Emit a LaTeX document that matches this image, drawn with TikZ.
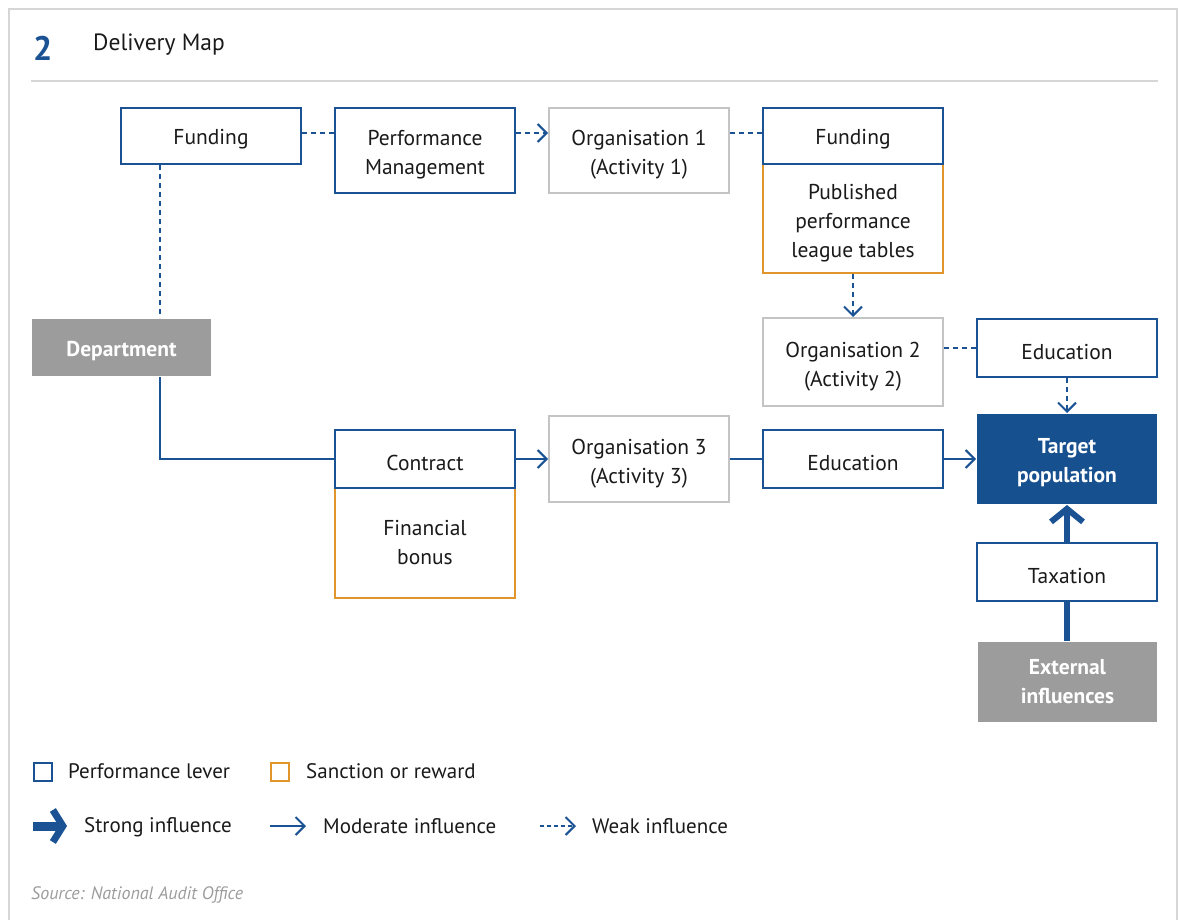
\documentclass[tikz,border=0pt]{standalone}
\usepackage{fontspec}
\setmainfont{PT Sans}
\usetikzlibrary{arrows.meta}
\definecolor{nblue}{HTML}{1A5294}
\definecolor{ndark}{HTML}{17508F}
\definecolor{norange}{HTML}{E0962A}
\definecolor{ngrayline}{HTML}{C4C4C4}
\definecolor{ngrayfill}{HTML}{9C9C9C}
\definecolor{nframe}{HTML}{D6D6D6}
\definecolor{ntext}{HTML}{1A1A1A}
\newcommand\mlx[2][28.5pt]{\begin{tabular}{@{}c@{}}\rule{0pt}{#1}#2\end{tabular}}
\tikzset{
  base/.style={rectangle, inner sep=0pt, align=center, text=ntext, font=\fontsize{21.5}{29}\selectfont, line width=2pt, execute at begin node={\rule{0pt}{22.5pt}}},
  lever/.style={base, draw=nblue, fill=white},
  sanction/.style={base, draw=norange, fill=white},
  org/.style={base, draw=ngrayline, fill=white},
  grayfill/.style={base, fill=ngrayfill, text=white, font=\fontsize{21.5}{29}\selectfont\bfseries},
  bluefill/.style={base, fill=ndark, text=white, font=\fontsize{21.5}{29}\selectfont\bfseries},
  weak/.style={draw=nblue, line width=2pt, dash pattern=on 5pt off 4pt},
  moderate/.style={draw=nblue, line width=2pt},
  tipw/.style={-{Straight Barb[length=9pt,width=18pt,line width=2pt]}},
  strong/.style={draw=nblue, line width=6pt},
  tips/.style={-{Straight Barb[length=13pt,width=32pt,line width=6pt]}},
  lbl/.style={anchor=west, inner sep=0pt, text=ntext, font=\fontsize{21}{25}\selectfont},
}
\begin{document}
\begin{tikzpicture}[x=1pt,y=-1pt]
\useasboundingbox (0,0) rectangle (1186,920);
% frame
\draw[nframe, line width=2pt] (9,921) -- (9,9) -- (1177,9) -- (1177,921);
\draw[nframe, line width=1.5pt] (31,81) -- (1158,81);
\node[anchor=base west, inner sep=0pt, text=nblue, font=\fontsize{34}{36}\selectfont\bfseries] (num) at (33,61) {2};
\node[anchor=base west, inner sep=0pt, text=ntext, font=\fontsize{23.5}{26}\selectfont] (title) at (93,51) {Delivery Map};

% nodes
\node[lever, minimum width=180pt, minimum height=56pt] (f1) at (211,136) {Funding};
\node[lever, minimum width=180pt, minimum height=85pt] (pm) at (425,150.5) {\mlx{Performance\\Management}};
\node[org, minimum width=180pt, minimum height=85pt] (o1) at (639,150.5) {\mlx{Organisation 1\\(Activity 1)}};
\node[sanction, minimum width=180pt, minimum height=109pt] (lt) at (853,218.5) {\mlx{Published\\performance\\league tables}};
\node[lever, minimum width=180pt, minimum height=56pt] (f2) at (853,136) {Funding};
\node[grayfill, minimum width=179pt, minimum height=57pt] (dep) at (121.5,347.5) {Department};
\node[org, minimum width=180pt, minimum height=88pt] (o2) at (853,362) {\mlx[29pt]{Organisation 2\\(Activity 2)}};
\node[lever, minimum width=180pt, minimum height=58pt] (e2) at (1067,348) {Education};
\node[sanction, minimum width=180pt, minimum height=110pt] (fb) at (425,543) {\mlx[22.5pt]{Financial\\bonus}};
\node[lever, minimum width=180pt, minimum height=58pt] (con) at (425,459) {Contract};
\node[org, minimum width=180pt, minimum height=86pt] (o3) at (639,459) {\mlx{Organisation 3\\(Activity 3)}};
\node[lever, minimum width=180pt, minimum height=58pt] (e3) at (853,459) {Education};
\node[bluefill, minimum width=180pt, minimum height=90pt] (tp) at (1067,459) {\mlx[26.5pt]{Target\\population}};
\node[lever, minimum width=180pt, minimum height=58pt] (tax) at (1067,572) {Taxation};
\node[grayfill, minimum width=179pt, minimum height=80pt] (ext) at (1067.5,682) {\mlx[22.5pt]{External\\influences}};

% connectors
\draw[weak] (f1.east |- 0,133) -- (pm.west |- 0,133);
\draw[weak, tipw] (pm.east |- 0,133) -- (o1.west |- 0,133);
\draw[weak] (o1.east |- 0,133) -- (f2.west |- 0,133);
\draw[weak] (f1.south -| 160,0) -- (dep.north -| 160,0);
\draw[weak, tipw] (lt.south) -- (o2.north);
\draw[weak] (o2.east |- e2.west) -- (e2.west);
\draw[weak, tipw] (e2.south) -- (tp.north);
\draw[moderate] (dep.south -| 160,0) |- (con.west);
\draw[moderate, tipw] (con.east) -- (o3.west);
\draw[moderate] (o3.east) -- (e3.west);
\draw[moderate, tipw] (e3.east) -- (tp.west);
\draw[strong, tips] (tax.north) -- (tp.south);
\draw[strong] (ext.north -| tax.south) -- (tax.south);

% legend
\node[draw=nblue, line width=2pt, minimum size=18pt, inner sep=0pt] (lg1) at (42.5,772) {};
\node[lbl] (lt1) at (68,771) {Performance lever};
\node[draw=norange, line width=2pt, minimum size=18pt, inner sep=0pt] (lg2) at (280,772) {};
\node[lbl] (lt2) at (306,771) {Sanction or reward};
\coordinate (s1) at (33,826); \coordinate (s2) at (67,826);
\draw[strong, line width=9pt, -{Straight Barb[length=10pt,width=32pt,line width=7pt]}] (s1) -- (s2);
\node[lbl] (lt3) at (84,827) {Strong influence};
\coordinate (m1) at (270,826); \coordinate (m2) at (306,826);
\draw[moderate, tipw] (m1) -- (m2);
\node[lbl] (lt4) at (323,826) {Moderate influence};
\coordinate (w1) at (540,826); \coordinate (w2) at (576,826);
\draw[weak, dash pattern=on 4pt off 3pt, tipw] (w1) -- (w2);
\node[lbl] (lt5) at (592,826) {Weak influence};
\node[anchor=west, inner sep=0pt, text=ngrayfill, font=\fontsize{18}{20}\selectfont\itshape] (src) at (31,895) {Source: National Audit Office};
\end{tikzpicture}
\end{document}
